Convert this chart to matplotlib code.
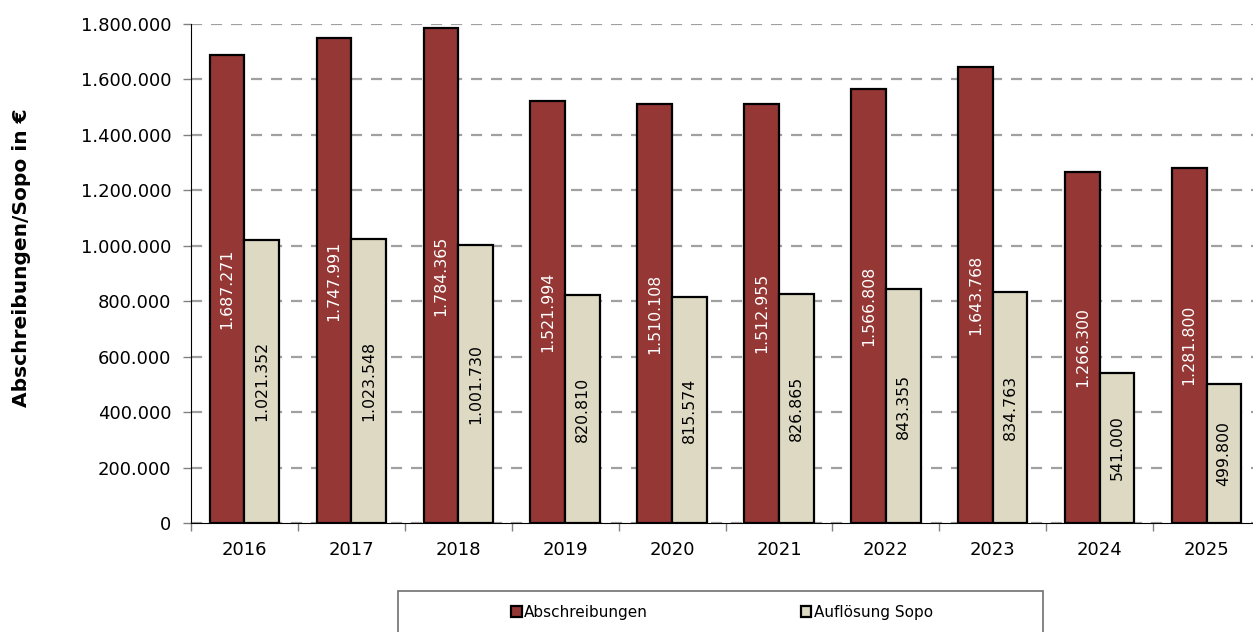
import matplotlib.pyplot as plt
from matplotlib.patches import Rectangle
import numpy as np

# Daten
years = ['2016', '2017', '2018', '2019', '2020', '2021', '2022', '2023', '2024', '2025']
abschreibungen = [1687271, 1747991, 1784365, 1521994, 1510108, 1512955, 1566808, 1643768, 1266300, 1281800]
aufloesung_sopo = [1021352, 1023548, 1001730, 820810, 815574, 826865, 843355, 834763, 541000, 499800]

RED = '#953735'
BEIGE = '#DDD9C3'


def fmt(v):
    # deutsches Tausendertrennzeichen
    return f'{v:,.0f}'.replace(',', '.')


plt.rcParams['font.family'] = 'DejaVu Sans'

fig = plt.figure(figsize=(12.53, 6.32), dpi=100)
ax = fig.add_axes([191 / 1253, 109 / 632, 1069 / 1253, 499 / 632])

x = np.arange(len(years))
width = 0.325

bars_red = ax.bar(x - width / 2, abschreibungen, width, color=RED, edgecolor='black',
                  linewidth=1.6, zorder=3, label='Abschreibungen')
bars_beige = ax.bar(x + width / 2, aufloesung_sopo, width, color=BEIGE, edgecolor='black',
                    linewidth=1.6, zorder=3, label='Auflösung Sopo')

# Werte in den Balken
for bar, v in zip(bars_red, abschreibungen):
    ax.text(bar.get_x() + bar.get_width() / 2, v / 2, fmt(v), rotation=90,
            ha='center', va='center', color='white', fontsize=11.3, zorder=4)
for bar, v in zip(bars_beige, aufloesung_sopo):
    ax.text(bar.get_x() + bar.get_width() / 2, v / 2, fmt(v), rotation=90,
            ha='center', va='center', color='black', fontsize=11.3, zorder=4)

ax.set_xlim(-0.5, len(years) - 0.5)
ax.set_ylim(0, 1800000)
ax.set_yticks(np.arange(0, 1800001, 200000))
ax.set_yticklabels([fmt(v) for v in np.arange(0, 1800001, 200000)], fontsize=13)

# Jahreslabels mittig, Ticks zwischen den Kategorien
ax.set_xticks(x)
ax.set_xticklabels(years, fontsize=13)
ax.tick_params(axis='x', length=0, pad=13)
ax.set_xticks(np.arange(-0.5, len(years), 1), minor=True)
ax.tick_params(axis='x', which='minor', length=6, color='#808080', width=1)
ax.tick_params(axis='y', length=6, color='#808080', width=1, pad=8)

ax.yaxis.grid(True, color='#A0A0A0', linestyle=(0, (5, 4)), linewidth=1.6, zorder=0)
ax.set_axisbelow(True)

for side in ['top', 'right']:
    ax.spines[side].set_visible(False)
ax.spines['left'].set_color('black')
ax.spines['bottom'].set_color('black')

fig.text(22 / 1253, 1 - 258 / 632, 'Abschreibungen/Sopo in €', rotation=90,
         ha='center', va='center', fontsize=14.5, fontweight='bold')

# Legendenrahmen unten
fig.patches.append(Rectangle((398 / 1253, -0.05), 645 / 1253, 0.05 + (632 - 591) / 632,
                             transform=fig.transFigure, facecolor='white',
                             edgecolor='#707070', linewidth=1.2))
fig.legend(handles=[bars_red, bars_beige], loc='center', ncol=2,
           bbox_to_anchor=(722 / 1253, 1 - 612 / 632), frameon=False, fontsize=11,
           handlelength=0.7, handleheight=0.7, handletextpad=0.15, columnspacing=10.0)

fig.savefig('out.png', dpi=100)
